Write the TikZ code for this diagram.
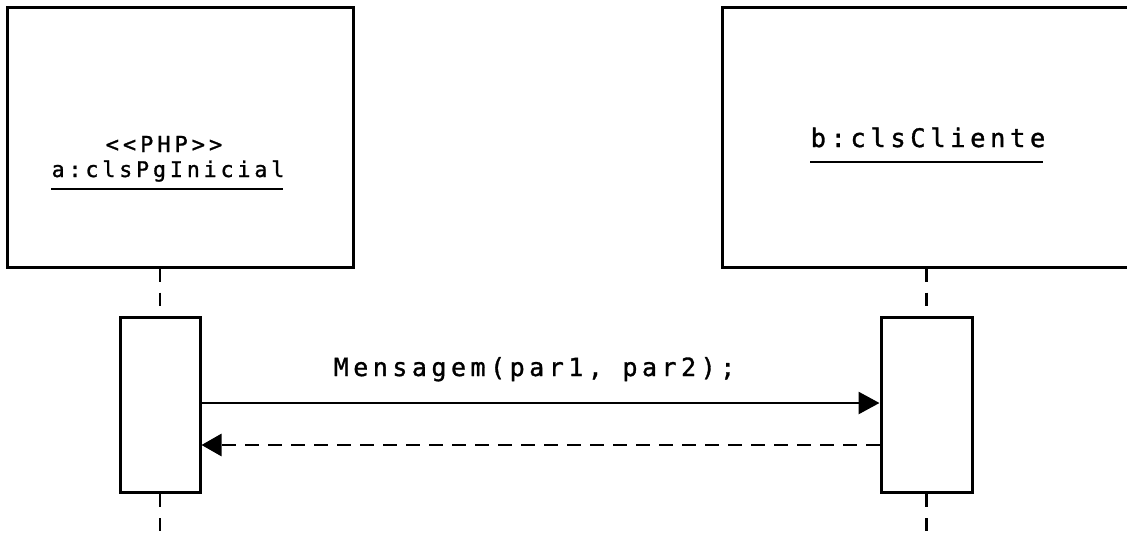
\documentclass[tikz,border=0pt]{standalone}
\usepackage{fontspec}
\usetikzlibrary{arrows.meta}
\newfontfamily\seqfont[LetterSpace=18,FakeBold=1.2]{DejaVu Sans Mono}
\begin{document}
\begin{tikzpicture}[x=1pt,y=-1pt,
  objbox/.style={draw, line width=3pt, inner sep=0pt},
  actbox/.style={draw, line width=3pt, fill=white, inner sep=0pt},
  lifeline/.style={line width=2.8pt, dash pattern=on 13pt off 11pt},
  msgline/.style={line width=2.8pt, -{Triangle[length=21pt,width=22pt]}},
  retline/.style={line width=2.8pt, dash pattern=on 14pt off 9pt, -{Triangle[length=20pt,width=22pt]}},
  uline/.style={line width=2.8pt},
  lbl/.style={inner sep=0pt, anchor=base}]
\useasboundingbox (0,0) rectangle (1127,541);
% object boxes
\node[objbox, minimum width=346pt, minimum height=260pt] (objA) at (180,137) {};
\node[objbox, minimum width=410pt, minimum height=260pt] (objB) at (927,137) {};
% object labels
\node[lbl] (stereoA) at (164,152) {\fontsize{22}{24}\seqfont <<PHP>>};
\node[lbl] (nameA) at (168,177) {\fontsize{21.6}{24}\seqfont a:clsPgInicial};
\draw[uline] ([yshift=-12pt]nameA.base west) -- ([yshift=-12pt,xshift=-2pt]nameA.base east);
\node[lbl] (nameB) at (928,147) {\fontsize{25.5}{28}\seqfont b:clsCliente};
\draw[uline] ([yshift=-15pt]nameB.base west) -- ([yshift=-15pt,xshift=-3pt]nameB.base east);
% activation bars
\node[actbox, minimum width=80pt, minimum height=175pt] (actA) at (160,405) {};
\node[actbox, minimum width=91pt, minimum height=175pt] (actB) at (926.5,405) {};
% lifelines
\coordinate (endA) at (160,541);
\coordinate (endB) at (926.5,541);
\draw[lifeline] (objA.south -| actA.north) -- (actA.north);
\draw[lifeline] (objB.south -| actB.north) -- (actB.north);
\draw[lifeline] (actA.south) -- (endA);
\draw[lifeline] (actB.south) -- (endB);
% messages
\draw[msgline] ([yshift=2pt]actA.east) -- ([yshift=2pt]actB.west)
  node[lbl, midway, yshift=27pt, xshift=-6pt] (msg) {\fontsize{25}{28}\seqfont Mensagem(par1, par2);};
\draw[retline] ([yshift=-40pt]actB.west) -- ([yshift=-40pt]actA.east);
\end{tikzpicture}
\end{document}
